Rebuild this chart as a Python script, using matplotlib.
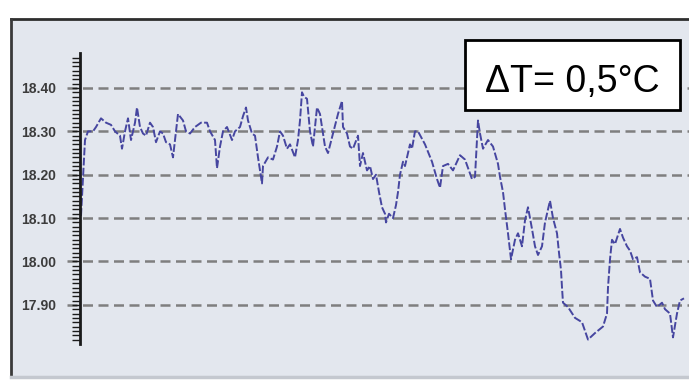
"""Temperature trace with dashed reference levels and a delta-T callout."""

import matplotlib
matplotlib.use('Agg')
import matplotlib.pyplot as plt
import matplotlib.lines as mlines
import matplotlib.patches as mpatches
from matplotlib.ticker import FixedLocator, FormatStrFormatter

# sample position (arbitrary time units), one row per stretch of the record
t = [1, 5, 8, 13, 16, 21, 26, 31, 35, 40, 42, 45, 48, 51, 55, 57, 60, 63, 66,
     70, 73, 76, 80, 83, 86, 90, 93, 96, 98, 103, 106, 110, 115, 121] + \
    [127, 130, 135, 137, 140, 143, 147, 152, 155, 160, 163, 166, 168, 172,
     175, 178, 182, 183, 188, 193, 197, 200, 203, 207, 210, 215, 218, 220,
     222, 224, 227, 230, 233, 237, 240, 243] + \
    [245, 248, 253, 258, 262, 263, 267, 270, 273, 278, 280, 283, 287, 290,
     293, 296, 299, 302, 305, 306, 309, 313, 316, 318, 320, 323, 325, 328,
     330, 332, 335, 338] + \
    [345, 352, 357, 360, 363, 368, 373, 380, 385, 392, 395, 398, 400, 403,
     408, 413, 418, 420, 423, 425, 428, 431, 435, 438, 442, 445, 448, 452,
     455, 458, 462, 465, 468, 470, 473, 477] + \
    [479, 481, 482, 483, 488, 495, 502, 508, 515, 523, 527, 528, 530, 532,
     535, 540, 543, 547, 550, 553, 557, 560, 565, 570, 573, 577, 582, 585,
     590, 593, 597, 600, 604]

# temperature in degC, same stretches as above
temp = [18.105, 18.28, 18.30, 18.30, 18.31, 18.33, 18.32, 18.315, 18.30,
        18.29, 18.26, 18.30, 18.33, 18.28, 18.32, 18.355, 18.31, 18.295,
        18.29, 18.32, 18.31, 18.275, 18.30, 18.295, 18.275, 18.27, 18.24,
        18.30, 18.34, 18.325, 18.30, 18.295, 18.31, 18.32] + \
       [18.32, 18.30, 18.28, 18.215, 18.265, 18.30, 18.31, 18.28, 18.30,
        18.31, 18.335, 18.355, 18.325, 18.295, 18.29, 18.24, 18.18, 18.22,
        18.24, 18.235, 18.265, 18.30, 18.29, 18.26, 18.27, 18.24, 18.28,
        18.325, 18.39, 18.38, 18.375, 18.30, 18.265, 18.355, 18.34, 18.295] + \
       [18.265, 18.25, 18.295, 18.34, 18.37, 18.31, 18.295, 18.265, 18.26,
        18.29, 18.22, 18.25, 18.21, 18.22, 18.19, 18.20, 18.16, 18.125,
        18.11, 18.09, 18.11, 18.10, 18.13, 18.16, 18.20, 18.23, 18.22,
        18.25, 18.27, 18.26, 18.30, 18.30] + \
       [18.27, 18.23, 18.19, 18.17, 18.22, 18.225, 18.21, 18.245, 18.235,
        18.19, 18.195, 18.325, 18.295, 18.26, 18.28, 18.265, 18.225, 18.195,
        18.16, 18.12, 18.065, 18.005, 18.05, 18.065, 18.035, 18.095, 18.125,
        18.075, 18.035, 18.015, 18.035, 18.09, 18.12, 18.14, 18.10, 18.065] + \
       [18.02, 17.98, 17.94, 17.905, 17.895, 17.87, 17.86, 17.82, 17.835,
        17.85, 17.88, 17.94, 18.005, 18.05, 18.04, 18.075, 18.055, 18.035,
        18.025, 18.005, 18.01, 17.975, 17.965, 17.96, 17.91, 17.895, 17.905,
        17.89, 17.88, 17.825, 17.88, 17.91, 17.915]

levels = [17.90, 18.00, 18.10, 18.20, 18.30, 18.40]
minor_levels = [round(17.82 + 0.01 * k, 2) for k in range(66)]
delta_label = 'ΔT= 0,5°C'

W, H = 689, 385
fig = plt.figure(figsize=(W / 100, H / 100), dpi=100)
fig.patch.set_facecolor('white')

# plot area inside the panel frame
ax = fig.add_axes([11 / W, 9 / H, 678 / W, 357 / H])
ax.set_facecolor('#e3e7ee')
ax.set_xlim(-69, 609)
ax.set_ylim(17.736, 18.559)

# dashed reference levels
ax.hlines(levels, -13, 609, colors='#7f7f7f', linestyles=[(0, (4, 2.2))],
          linewidth=1.8, zorder=1)

ax.plot(t, temp, color='#4646a0', linewidth=1.4,
        linestyle=(0, (4, 1.2)), zorder=3)

# y axis drawn as a free-standing ruler
for side in ['top', 'right', 'bottom']:
    ax.spines[side].set_visible(False)
ax.spines['left'].set_position(('data', 0))
ax.spines['left'].set_bounds(17.81, 18.48)
ax.spines['left'].set_linewidth(2)
ax.spines['left'].set_color('#1a1a1a')
ax.spines['left'].set_zorder(4)
ax.set_xticks([])
ax.yaxis.set_major_locator(FixedLocator(levels))
ax.yaxis.set_minor_locator(FixedLocator(minor_levels))
ax.yaxis.set_major_formatter(FormatStrFormatter('%.2f'))
ax.tick_params(axis='y', which='major', length=6, width=1, color='#1a1a1a',
               pad=11, labelsize=10, labelcolor='#3c3c3c')
ax.tick_params(axis='y', which='minor', length=6, width=1, color='#1a1a1a')
for lab in ax.get_yticklabels():
    lab.set_fontweight('bold')
    lab.set_fontfamily('Liberation Sans')

# panel frame: dark top/left edges, pale bottom edge
fig.add_artist(mlines.Line2D([11 / W, 1], [1 - 19 / H, 1 - 19 / H],
                             color='#2e2e2e', linewidth=2))
fig.add_artist(mlines.Line2D([11 / W, 11 / W], [1 - 19 / H, 1 - 377 / H],
                             color='#3a3a3a', linewidth=2))
fig.add_artist(mlines.Line2D([11 / W, 1], [1 - 377 / H, 1 - 377 / H],
                             color='#c4c8cf', linewidth=2.5))

# delta-T callout
fig.add_artist(mpatches.Rectangle((465 / W, 1 - 110 / H), 215 / W, 70 / H,
                                  transform=fig.transFigure,
                                  facecolor='white', edgecolor='black',
                                  linewidth=2, zorder=5))
fig.text(572 / W, 1 - 92 / H, delta_label, ha='center', va='baseline',
         fontsize=27, family=['Liberation Sans', 'DejaVu Sans'],
         color='black', zorder=6)

plt.savefig('out.png', dpi=100)
